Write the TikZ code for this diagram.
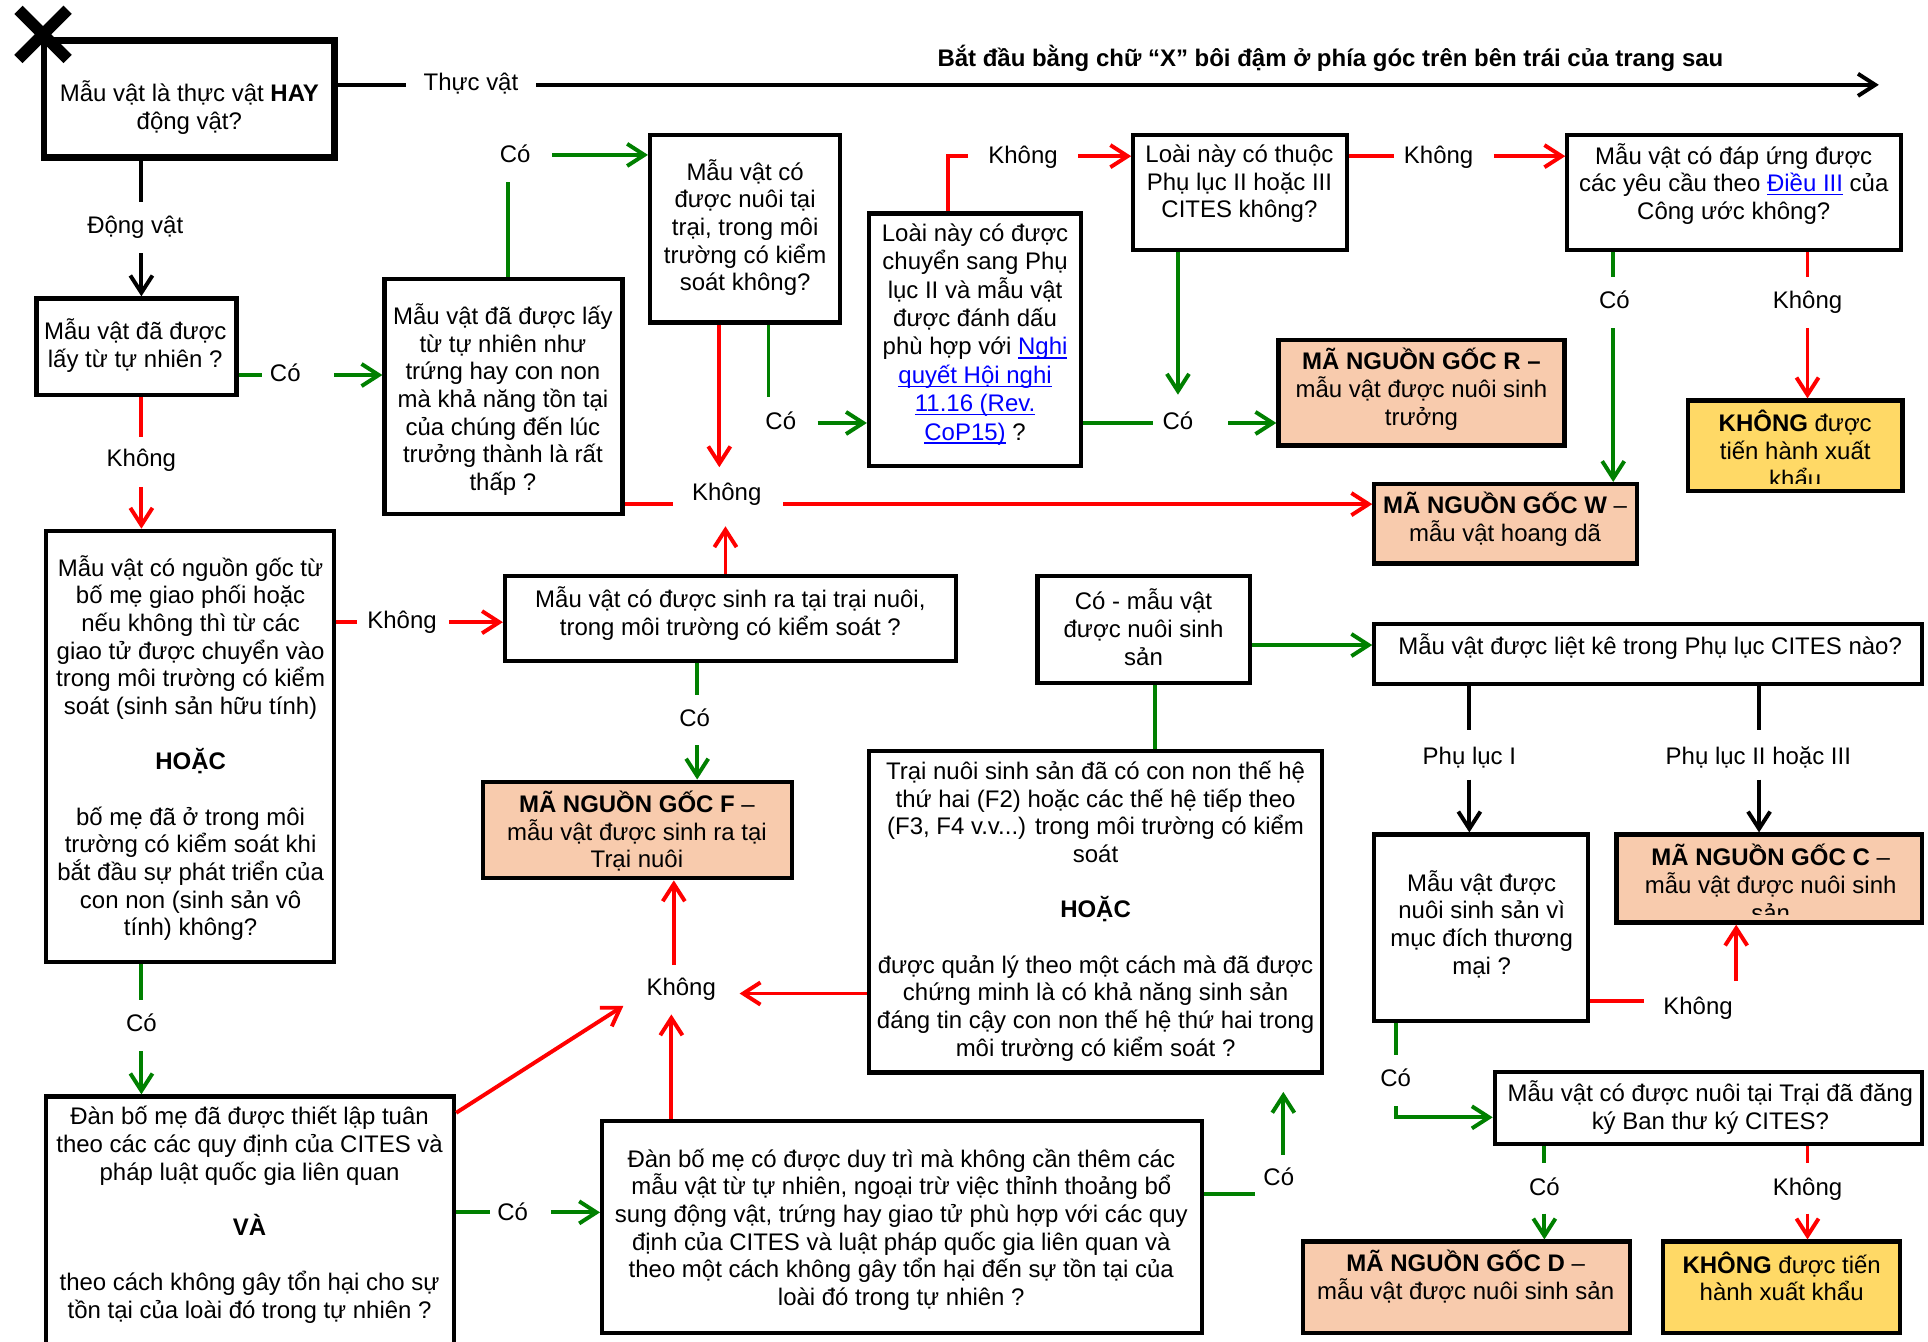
\documentclass[tikz,border=0pt]{standalone}
\usepackage{fontspec}
\setmainfont{Liberation Sans}
\usetikzlibrary{arrows.meta,calc}
\definecolor{gr}{RGB}{0,128,0}
\definecolor{rd}{RGB}{255,0,0}
\definecolor{peach}{RGB}{248,203,173}
\definecolor{yel}{RGB}{255,217,102}
\definecolor{lnkc}{RGB}{0,0,255}
\newsavebox\lnkbox
\newcommand\lnk[1]{\textcolor{lnkc}{\sbox\lnkbox{#1}\rlap{\rule[-3pt]{\wd\lnkbox}{1.2pt}}\usebox\lnkbox}}
\newcommand\fs{\fontsize{19.5}{22.5}\selectfont}
\newcommand\mkbox[6]{\node[#1, minimum width={(#5-#3-3.4)*1pt}, minimum height={(#6-#4-3.4)*1pt}] (#2) at ({(#3+#5)/2},{(#4+#6)/2}) {};}
\begin{document}
\begin{tikzpicture}[x=1pt,y=-1pt,
 every node/.style={font=\fs},
 bx/.style={draw=black, line width=3.4pt, fill=white, inner sep=0pt},
 pbx/.style={bx, fill=peach},
 ybx/.style={bx, fill=yel},
 txt/.style={align=center, inner sep=0pt},
 lab/.style={inner sep=0pt, anchor=base},
 ln/.style={line width=3.2pt},
 kl/.style={ln, draw=black},
 gl/.style={ln, draw=gr},
 rl/.style={ln, draw=rd},
 tip/.style={-{Straight Barb[length=14pt,width=18pt]}}]
\fill[white] (0,0) rectangle (1568,1091);
\useasboundingbox (0,0) rectangle (1568,1091);
\clip (0,0) rectangle (1568,1091);

% boxes
\node[bx, line width=5.5pt, minimum width=236.5pt, minimum height=95.5pt] (b1) at (154,80.5) {};
\mkbox{bx}{b2}{28}{241}{194}{323}
\mkbox{bx}{b3}{311}{225}{508}{420}
\mkbox{bx}{b4}{527}{108}{685}{264}
\mkbox{bx}{b5}{705}{172}{881}{381}
\mkbox{bx}{b6}{920}{108}{1097}{205}
\mkbox{bx}{b7}{1273}{108}{1548}{205}
\mkbox{pbx}{bR}{1038}{275}{1274}{364}
\mkbox{ybx}{bK1}{1371}{324}{1549}{401}
\mkbox{pbx}{bW}{1116}{392}{1333}{460}
\mkbox{bx}{b8}{36}{430}{273}{784}
\mkbox{bx}{b9}{409}{467}{779}{539}
\mkbox{pbx}{bF}{391}{634}{646}{716}
\mkbox{bx}{bCo}{842}{467}{1018}{557}
\mkbox{bx}{bTr}{705}{609}{1077}{874}
\mkbox{bx}{bLK}{1116}{506}{1565}{558}
\mkbox{bx}{bCm}{1116}{677}{1293}{832}
\mkbox{pbx}{bC}{1313}{677}{1565}{752}
\mkbox{bx}{bReg}{1214}{870}{1565}{932}
\mkbox{pbx}{bD}{1058}{1008}{1327}{1086}
\mkbox{ybx}{bK2}{1351}{1008}{1547}{1086}
\mkbox{bx}{bD1}{36}{890}{371}{1120}
\mkbox{bx}{bD2}{488}{910}{979}{1086}

% X mark
\draw[line width=9.5pt] (15,8) -- (55,48) (55,8) -- (15,48);

% title
\node[lab, font=\fs\bfseries] (title) at (1082,54) {Bắt đầu bằng chữ “X” bôi đậm ở phía góc trên bên trái của trang sau};

% box texts
\node[txt] (b1t) at (154,87.5) {Mẫu vật là thực vật \textbf{HAY}\\động vật?};
\node[txt] (b2t) at (110,281) {Mẫu vật đã được\\lấy từ tự nhiên ?};
\node[txt] (b3t) at (409,325) {Mẫu vật đã được lấy\\từ tự nhiên như\\trứng hay con non\\mà khả năng tồn tại\\của chúng đến lúc\\trưởng thành là rất\\thấp ?};
\node[txt] (b4t) at (606,185) {Mẫu vật có\\được nuôi tại\\trại, trong môi\\trường có kiểm\\soát không?};
\node[txt, font=\fontsize{19.5}{23.1}\selectfont] (b5t) at (793,272) {Loài này có được\\chuyển sang Phụ\\lục II và mẫu vật\\được đánh dấu\\phù hợp với \lnk{Nghi}\\\lnk{quyết Hội nghi}\\\lnk{11.16 (Rev.}\\\lnk{CoP15)} ?};
\node[txt] (b6t) at (1008,149.5) {Loài này có thuộc\\Phụ lục II hoặc III\\CITES không?};
\node[txt] (b7t) at (1410,149.5) {Mẫu vật có đáp ứng được\\các yêu cầu theo \lnk{Điều III} của\\Công ước không?};
\node[txt] (bRt) at (1156,316.5) {\textbf{MÃ NGUỒN GỐC R –}\\mẫu vật được nuôi sinh\\trưởng};
\begin{scope}
\clip (1373,326) rectangle (1547,393);
\node[txt] (bK1t) at (1460,365) {\textbf{KHÔNG} được\\tiến hành xuất\\khẩu};
\end{scope}
\node[txt] (bWt) at (1224,422.5) {\textbf{MÃ NGUỒN GỐC W} –\\mẫu vật hoang dã};
\node[txt] (b8t) at (155,608.5) {Mẫu vật có nguồn gốc từ\\bố mẹ giao phối hoặc\\nếu không thì từ các\\giao tử được chuyển vào\\trong môi trường có kiểm\\soát (sinh sản hữu tính)\\[22.5pt]\textbf{HOẶC}\\[22.5pt]bố mẹ đã ở trong môi\\trường có kiểm soát khi\\bắt đầu sự phát triển của\\con non (sinh sản vô\\tính) không?};
\node[txt] (b9t) at (594,499) {Mẫu vật có được sinh ra tại trại nuôi,\\trong môi trường có kiểm soát ?};
\node[txt] (bFt) at (518,676) {\textbf{MÃ NGUỒN GỐC F} –\\mẫu vật được sinh ra tại\\Trại nuôi};
\node[txt] (bCot) at (930,510) {Có - mẫu vật\\được nuôi sinh\\sản};
\node[txt] (bTrt) at (891,741) {Trại nuôi sinh sản đã có con non thế hệ\\thứ hai (F2) hoặc các thế hệ tiếp theo\\(F3, F4 v.v...) trong môi trường có kiểm\\soát\\[22.5pt]\textbf{HOẶC}\\[22.5pt]được quản lý theo một cách mà đã được\\chứng minh là có khả năng sinh sản\\đáng tin cậy con non thế hệ thứ hai trong\\môi trường có kiểm soát ?};
\node[txt] (bLKt) at (1342,525.5) {Mẫu vật được liệt kê trong Phụ lục CITES nào?};
\node[txt] (bCmt) at (1205,751.5) {Mẫu vật được\\nuôi sinh sản vì\\mục đích thương\\mại ?};
\begin{scope}
\clip (1315,679) rectangle (1563,744);
\node[txt] (bCt) at (1440,718) {\textbf{MÃ NGUỒN GỐC C} –\\mẫu vật được nuôi sinh\\sản};
\end{scope}
\node[txt] (bRegt) at (1391,900.6) {Mẫu vật có được nuôi tại Trại đã đăng\\ký Ban thư ký CITES?};
\node[txt] (bDt) at (1192,1038) {\textbf{MÃ NGUỒN GỐC D} –\\mẫu vật được nuôi sinh sản};
\node[txt] (bK2t) at (1449,1038) {\textbf{KHÔNG} được tiến\\hành xuất khẩu};
\node[txt] (bD1t) at (203,988) {Đàn bố mẹ đã được thiết lập tuân\\theo các các quy định của CITES và\\pháp luật quốc gia liên quan\\[22.5pt]\textbf{VÀ}\\[22.5pt]theo cách không gây tổn hại cho sự\\tồn tại của loài đó trong tự nhiên ?};
\node[txt] (bD2t) at (733,1000) {Đàn bố mẹ có được duy trì mà không cần thêm các\\mẫu vật từ tự nhiên, ngoại trừ việc thỉnh thoảng bổ\\sung động vật, trứng hay giao tử phù hợp với các quy\\định của CITES và luật pháp quốc gia liên quan và\\theo một cách không gây tổn hại đến sự tồn tại của\\loài đó trong tự nhiên ?};

% labels
\node[lab] (lTv) at (383,74) {Thực vật};
\node[lab] (lDv) at (110,190) {Động vật};
\node[lab] (lC1) at (232,310) {Có};
\node[lab] (lC2) at (419,132) {Có};
\node[lab] (lK1) at (115,379) {Không};
\node[lab] (lK2) at (591,407) {Không};
\node[lab] (lC3) at (635,349) {Có};
\node[lab] (lK3) at (832,133) {Không};
\node[lab] (lK4) at (1170,133) {Không};
\node[lab] (lC4) at (958,349) {Có};
\node[lab] (lC5) at (1313,251) {Có};
\node[lab] (lK5) at (1470,251) {Không};
\node[lab] (lK6) at (327,511) {Không};
\node[lab] (lC6) at (565,591) {Có};
\node[lab] (lC7) at (115,839) {Có};
\node[lab] (lK7) at (554,810) {Không};
\node[lab] (lC8) at (417,993) {Có};
\node[lab] (lC9) at (1040,964) {Có};
\node[lab] (lP1) at (1195,622) {Phụ lục I};
\node[lab] (lP2) at (1430,622) {Phụ lục II hoặc III};
\node[lab] (lK8) at (1381,825) {Không};
\node[lab] (lC10) at (1135,884) {Có};
\node[lab] (lC11) at (1256,972) {Có};
\node[lab] (lK9) at (1470,972) {Không};

% connector coordinates
\coordinate (tva) at (330,69); \coordinate (tvb) at (436,69); \coordinate (tvc) at (1528,69);
\coordinate (dva) at (115,164); \coordinate (dvb) at (115,206);
\coordinate (c1a) at (213,305); \coordinate (c1b) at (272,305);
\coordinate (c2a) at (413,148); \coordinate (c2b) at (449,126);
\coordinate (r1a) at (585,380);
\coordinate (c3a) at (625,323); \coordinate (c3b) at (665,344);
\coordinate (r2a) at (771,127); \coordinate (r2b) at (787,127); \coordinate (r2c) at (877,127);
\coordinate (r3a) at (1134,127); \coordinate (r3b) at (1215,127);
\coordinate (c4a) at (958,321);
\coordinate (c5a) at (938,344); \coordinate (c5b) at (999,344);
\coordinate (c6a) at (1312,225); \coordinate (c6b) at (1312,267);
\coordinate (r4a) at (1470,225); \coordinate (r4b) at (1470,267);
\coordinate (r5a) at (547,410); \coordinate (r5b) at (637,410);
\coordinate (r6a) at (590,428);
\coordinate (r7a) at (115,355); \coordinate (r7b) at (115,396);
\coordinate (r8a) at (290,506); \coordinate (r8b) at (365,506);
\coordinate (c7a) at (567,565); \coordinate (c7b) at (567,606);
\coordinate (c8a) at (115,813); \coordinate (c8b) at (115,855);
\coordinate (c9a) at (398.5,986); \coordinate (c9b) at (448,986);
\coordinate (r9a) at (507,818);
\coordinate (r10a) at (546,825);
\coordinate (r11a) at (601.5,808);
\coordinate (r12a) at (548,785);
\coordinate (c10a) at (1020.7,971); \coordinate (c10b) at (1043.7,939); \coordinate (c10c) at (1043.7,888);
\coordinate (c11a) at (939,580);
\coordinate (c12a) at (1050,524.6);
\coordinate (k3a) at (1195,594); \coordinate (k3b) at (1195,634);
\coordinate (k4a) at (1430.6,594); \coordinate (k4b) at (1430.6,634);
\coordinate (r13a) at (1337,814); \coordinate (r13b) at (1412,798);
\coordinate (c13a) at (1135,858); \coordinate (c13b) at (1135,899.5); \coordinate (c13c) at (1135,908.7);
\coordinate (c14a) at (1256,946); \coordinate (c14b) at (1256,987);
\coordinate (r14a) at (1470,946); \coordinate (r14b) at (1470,987);

% connectors
\draw[kl] (b1.east |- tva) -- (tva);
\draw[kl,tip] (tvb) -- (tvc);
\draw[kl] (b1.south -| dva) -- (dva);
\draw[kl,tip] (dvb) -- (b2.north -| dvb);
\draw[gl] (b2.east |- c1a) -- (c1a);
\draw[gl,tip] (c1b) -- (b3.west |- c1b);
\draw[gl] (b3.north -| c2a) -- (c2a);
\draw[gl,tip] (c2b) -- (b4.west |- c2b);
\draw[rl,tip] (b4.south -| r1a) -- (r1a);
\draw[gl] (b4.south -| c3a) -- (c3a);
\draw[gl,tip] (c3b) -- (b5.west |- c3b);
\draw[rl] (b5.north -| r2a) -- (r2a) -- (r2b);
\draw[rl,tip] (r2c) -- (b6.west |- r2c);
\draw[rl] (b6.east |- r3a) -- (r3a);
\draw[rl,tip] (r3b) -- (b7.west |- r3b);
\draw[gl,tip] (b6.south -| c4a) -- (c4a);
\draw[gl] (b5.east |- c5a) -- (c5a);
\draw[gl,tip] (c5b) -- (bR.west |- c5b);
\draw[gl] (b7.south -| c6a) -- (c6a);
\draw[gl,tip] (c6b) -- (bW.north -| c6b);
\draw[rl] (b7.south -| r4a) -- (r4a);
\draw[rl,tip] (r4b) -- (bK1.north -| r4b);
\draw[rl] (b3.east |- r5a) -- (r5a);
\draw[rl,tip] (r5b) -- (bW.west |- r5b);
\draw[rl,tip] (b9.north -| r6a) -- (r6a);
\draw[rl] (b2.south -| r7a) -- (r7a);
\draw[rl,tip] (r7b) -- (b8.north -| r7b);
\draw[rl] (b8.east |- r8a) -- (r8a);
\draw[rl,tip] (r8b) -- (b9.west |- r8b);
\draw[gl] (b9.south -| c7a) -- (c7a);
\draw[gl,tip] (c7b) -- (bF.north -| c7b);
\draw[gl] (b8.south -| c8a) -- (c8a);
\draw[gl,tip] (c8b) -- (bD1.north -| c8b);
\draw[gl] (bD1.east |- c9a) -- (c9a);
\draw[gl,tip] (c9b) -- (bD2.west |- c9b);
\draw[rl,tip] ([yshift=-15pt]bD1.north east) -- (r9a);
\draw[rl,tip] (bD2.north -| r10a) -- (r10a);
\draw[rl,tip] (bTr.west |- r11a) -- (r11a);
\draw[rl,tip] (r12a) -- (bF.south -| r12a);
\draw[gl] (bD2.east |- c10a) -- (c10a);
\draw[gl,tip] (c10b) -- (c10c);
\draw[gl] (bCo.south -| c11a) -- (bTr.north -| c11a);
\draw[gl,tip] (bCo.east |- c12a) -- (bLK.west |- c12a);
\draw[kl] (bLK.south -| k3a) -- (k3a);
\draw[kl,tip] (k3b) -- (bCm.north -| k3b);
\draw[kl] (bLK.south -| k4a) -- (k4a);
\draw[kl,tip] (k4b) -- (bC.north -| k4b);
\draw[rl] (bCm.east |- r13a) -- (r13a);
\draw[rl,tip] (r13b) -- (bC.south -| r13b);
\draw[gl] (bCm.south -| c13a) -- (c13a);
\draw[gl,tip] (c13b) |- (bReg.west |- c13c);
\draw[gl] (bReg.south -| c14a) -- (c14a);
\draw[gl,tip] (c14b) -- (bD.north -| c14b);
\draw[rl] (bReg.south -| r14a) -- (r14a);
\draw[rl,tip] (r14b) -- (bK2.north -| r14b);
\end{tikzpicture}
\end{document}
